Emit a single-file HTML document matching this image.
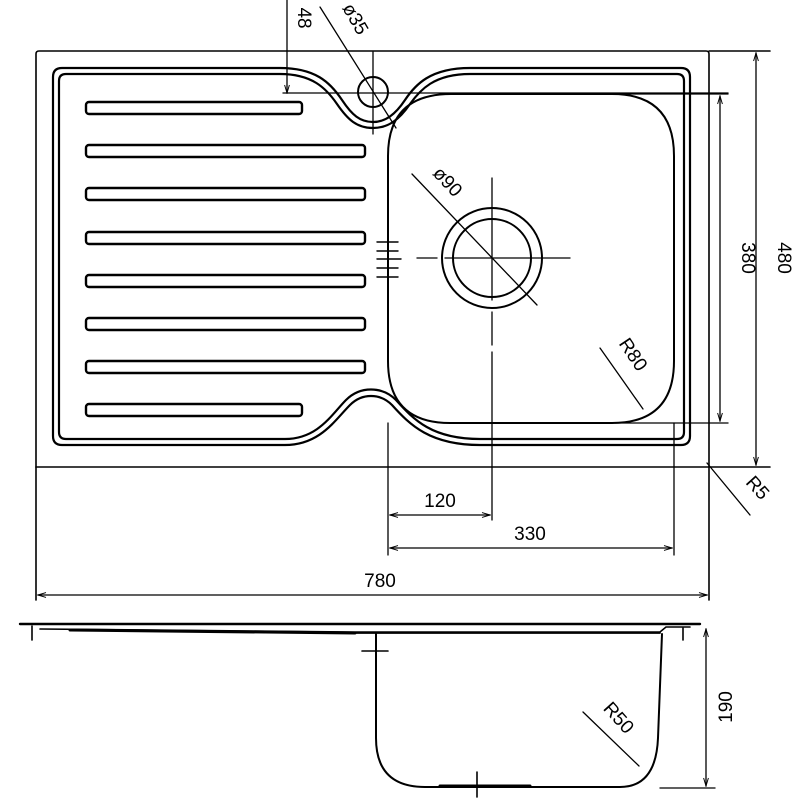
<!DOCTYPE html>
<html><head><style>html,body{margin:0;padding:0;background:#fff}svg{display:block}</style></head>
<body>
<svg width="800" height="800" viewBox="0 0 800 800" xmlns="http://www.w3.org/2000/svg">
<defs>
<marker id="a" viewBox="0 0 10 10" refX="10" refY="5" markerWidth="10" markerHeight="8" orient="auto-start-reverse" markerUnits="userSpaceOnUse"><path d="M0,2 L10,5 L0,8" fill="none" stroke="#000" stroke-width="1.2"/></marker>
</defs>
<g fill="none" stroke="#000" stroke-width="1.6" stroke-linecap="round">
<path d="M36,467 V54 Q36,51 39,51 H706 Q709,51 709,54 V467"/>
<line x1="36" y1="467" x2="770" y2="467"/>
<line x1="709" y1="51" x2="770" y2="51"/>
<line x1="36" y1="467" x2="36" y2="600"/>
<line x1="709" y1="467" x2="709" y2="600"/>
<path stroke-width="2.2" d="M280,68 H62 Q53,68 53,77 V436 Q53,445 62,445 H285 C320,445 335,420 350,405 C362,393 380,393 392,405 C410,425 430,445 480,445 H681 Q690,445 690,436 V77 Q690,68 681,68 H470 C430,68 415,85 405,100 C395,115 385,122 373,122 C360,122 352,115 342,100 C330,82 315,68 280,68 Z"/>
<path stroke-width="2.2" d="M280,74 H66 Q59,74 59,81 V432 Q59,439 66,439 H285 C318,439 332,414 346,400 C360,386 382,386 396,400 C414,420 432,439 480,439 H677 Q684,439 684,432 V81 Q684,74 677,74 H470 C434,74 420,90 410,104 C399,120 388,128 373,128 C357,128 348,120 337,104 C326,88 312,74 280,74 Z"/>
<path stroke-width="2" d="M451,94 H612 Q674,94 674,156 V361 Q674,423 612,423 H450 Q388,423 388,361 V156 Q388,94 451,94 Z"/>
<circle cx="492" cy="258" r="50" stroke-width="2"/>
<circle cx="492" cy="258" r="39" stroke-width="2"/>
<line x1="492" y1="178" x2="492" y2="300" stroke-width="1.3"/>
<line x1="492" y1="312" x2="492" y2="345" stroke-width="1.3"/>
<line x1="492" y1="352" x2="492" y2="520" stroke-width="1.3"/>
<line x1="417" y1="258" x2="437" y2="258" stroke-width="1.3"/>
<line x1="445" y1="258" x2="570" y2="258" stroke-width="1.3"/>
<line x1="412" y1="174" x2="537" y2="305" stroke-width="1.3"/>
<circle cx="373" cy="92" r="15" stroke-width="2"/>
<line x1="373" y1="52" x2="373" y2="134" stroke-width="1.3"/>
<line x1="283" y1="93" x2="728" y2="93" stroke-width="1.3"/>
<line x1="287" y1="0" x2="287" y2="93" stroke-width="1.3" marker-end="url(#a)"/>
<line x1="320" y1="7" x2="396" y2="128" stroke-width="1.3"/>
<g stroke-width="2.4">
<rect x="86" y="102" width="216" height="12" rx="3"/>
<rect x="86" y="145" width="279" height="12" rx="3"/>
<rect x="86" y="188" width="279" height="12" rx="3"/>
<rect x="86" y="232" width="279" height="12" rx="3"/>
<rect x="86" y="275" width="279" height="12" rx="3"/>
<rect x="86" y="318" width="279" height="12" rx="3"/>
<rect x="86" y="361" width="279" height="12" rx="3"/>
<rect x="86" y="404" width="216" height="12" rx="3"/>
</g>
<g stroke-width="1.4">
<line x1="377" y1="242" x2="398" y2="242"/><line x1="377" y1="251" x2="398" y2="251"/><line x1="377" y1="259" x2="401" y2="259"/><line x1="377" y1="268" x2="398" y2="268"/><line x1="377" y1="277" x2="398" y2="277"/>
</g>
<g stroke-width="1.3">
<line x1="388" y1="423" x2="388" y2="555"/>
<line x1="674" y1="423" x2="674" y2="555"/>
<line x1="390" y1="515" x2="490" y2="515" marker-start="url(#a)" marker-end="url(#a)"/>
<line x1="390" y1="548" x2="672" y2="548" marker-start="url(#a)" marker-end="url(#a)"/>
<line x1="38" y1="595" x2="707" y2="595" marker-start="url(#a)" marker-end="url(#a)"/>
<line x1="600" y1="94" x2="728" y2="94"/>
<line x1="615" y1="423" x2="728" y2="423"/>
<line x1="720" y1="96" x2="720" y2="421" marker-start="url(#a)" marker-end="url(#a)"/>
<line x1="756" y1="53" x2="756" y2="465" marker-start="url(#a)" marker-end="url(#a)"/>
<line x1="707" y1="463" x2="750" y2="515"/>
<line x1="600" y1="348" x2="643" y2="409"/>
<line x1="583" y1="712" x2="639" y2="766"/>
<line x1="706" y1="629" x2="706" y2="786" marker-start="url(#a)" marker-end="url(#a)"/>
<line x1="660" y1="788" x2="715" y2="788"/>
</g>
<line x1="20" y1="624" x2="700" y2="624" stroke-width="2.4"/>
<path stroke-width="1.6" d="M40,629 L355,632 H660 L666,627 L690,627"/>
<path stroke-width="3" d="M70,630 L355,633"/>
<line x1="355" y1="633" x2="660" y2="633" stroke-width="1.8"/>
<path stroke-width="2" d="M376,633 V738 Q376,787 425,787 H620 Q656,787 658,738 L662,634"/>
<path stroke-width="3" d="M440,786 H530"/>
<line x1="32" y1="626" x2="32" y2="640" stroke-width="1.6"/>
<line x1="683" y1="628" x2="683" y2="640" stroke-width="1.6"/>
<line x1="362" y1="651" x2="388" y2="651" stroke-width="1.6"/>
<line x1="477" y1="772" x2="477" y2="797" stroke-width="1.6"/>
</g>
<g font-family="Liberation Sans, sans-serif" font-size="19" fill="#000" text-anchor="middle">
<text x="440" y="507">120</text>
<text x="530" y="540">330</text>
<text x="380" y="587">780</text>
<text transform="translate(742,258) rotate(90)">380</text>
<text transform="translate(778,258) rotate(90)">480</text>
<text transform="translate(298,18) rotate(90)">48</text>
<text transform="translate(350,22) rotate(60)">ø35</text>
<text transform="translate(443,186) rotate(47)">ø90</text>
<text transform="translate(628,358) rotate(56)">R80</text>
<text transform="translate(753,492) rotate(48)">R5</text>
<text transform="translate(614,722) rotate(48)">R50</text>
<text transform="translate(732,707) rotate(-90)">190</text>
</g>
</svg>
</body></html>
